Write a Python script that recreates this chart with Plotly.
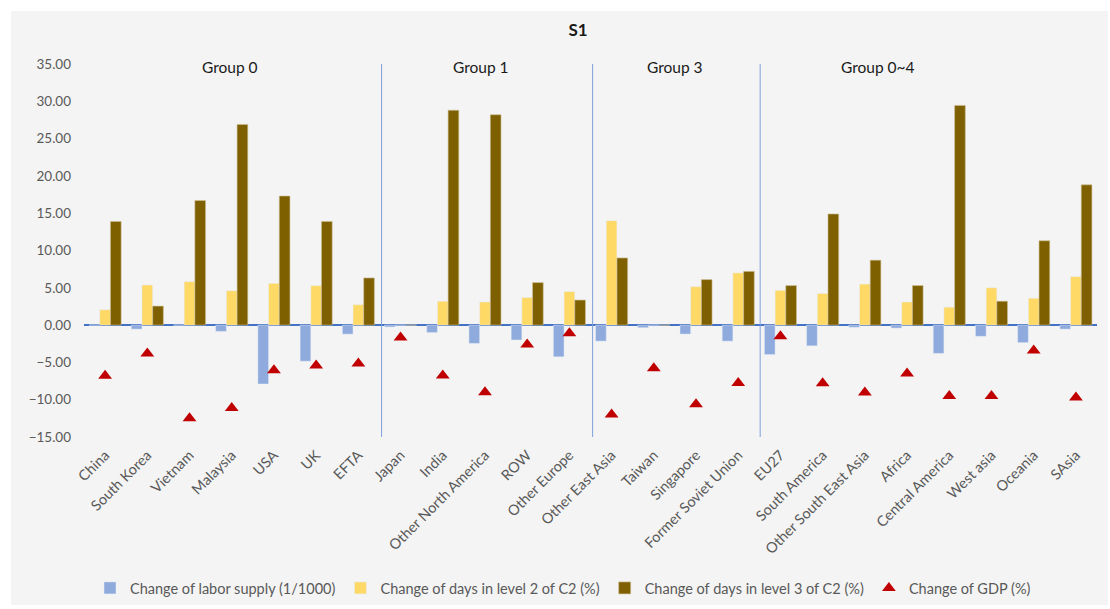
import plotly.graph_objects as go

categories = ["China", "South Korea", "Vietnam", "Malaysia", "USA", "UK", "EFTA",
              "Japan", "India", "Other North America", "ROW", "Other Europe",
              "Other East Asia", "Taiwan", "Singapore", "Former Soviet Union",
              "EU27", "South America", "Other South East Asia", "Africa",
              "Central America", "West asia", "Oceania", "SAsia"]

labor_supply = [0.0, -0.54, 0.0, -0.85, -7.9, -4.84, -1.21,
                -0.25, -1.0, -2.46, -2.0, -4.25,
                -2.15, -0.35, -1.2, -2.15,
                -3.95, -2.78, -0.3, -0.4, -3.8, -1.5, -2.35, -0.54]

days_level2 = [2.06, 5.38, 5.83, 4.6, 5.6, 5.29, 2.73,
               0.0, 3.2, 3.1, 3.7, 4.5,
               14.0, 0.0, 5.15, 7.0,
               4.66, 4.24, 5.5, 3.1, 2.4, 5.0, 3.6, 6.5]

days_level3 = [13.9, 2.55, 16.7, 26.9, 17.3, 13.9, 6.32,
               0.0, 28.8, 28.2, 5.7, 3.36,
               9.0, 0.0, 6.1, 7.2,
               5.3, 14.9, 8.7, 5.3, 29.45, 3.2, 11.3, 18.8]

gdp = [-6.8, -3.8, -12.5, -11.1, -6.05, -5.4, -5.15,
       -1.65, -6.75, -9.0, -2.6, -1.08,
       -12.0, -5.8, -10.6, -7.75,
       -1.5, -7.8, -9.05, -6.5, -9.5, -9.5, -3.4, -9.7]

series_names = ["Change of labor supply (1/1000)",
                "Change of days in level 2 of C2 (%)",
                "Change of days in level 3 of C2 (%)",
                "Change of GDP (%)"]

group_names = ["Group 0", "Group 1", "Group 3", "Group 0~4"]
group_label_pos = [2.95, 8.9, 13.5, 18.3]
divider_pos = [6.55, 11.55, 15.52]

y_ticks = [-15, -10, -5, 0, 5, 10, 15, 20, 25, 30, 35]

FONT = "Lato, 'Open Sans', sans-serif"
GRAY = "#595959"

fig = go.Figure()
fig.add_trace(go.Bar(x=categories, y=labor_supply, name=series_names[0],
                     marker_color="#8faadc"))
fig.add_trace(go.Bar(x=categories, y=days_level2, name=series_names[1],
                     marker_color="#ffd966"))
fig.add_trace(go.Bar(x=categories, y=days_level3, name=series_names[2],
                     marker=dict(color="#7f6000", line=dict(color="#cdbf95", width=0.6))))
fig.add_trace(go.Scatter(x=categories, y=gdp, name=series_names[3], mode="markers",
                         marker=dict(symbol="triangle-up", size=12, color="#c00000")))

# background panel (grey with white frame)
L, R, T, B = 84, 13, 64, 172
W, H = 1110, 609
pw, ph = W - L - R, H - T - B
def px_x(p):
    return (p - L) / pw
def px_y(p):
    return (H - B - p) / ph

shapes = [dict(type="rect", xref="paper", yref="paper",
               x0=px_x(11), x1=px_x(1108), y0=px_y(605), y1=px_y(11),
               fillcolor="#f4f4f4", line=dict(width=0), layer="below")]
for d in divider_pos:
    shapes.append(dict(type="line", xref="x", yref="y", x0=d, x1=d, y0=-15.8, y1=35.4,
                       line=dict(color="#7fa0dc", width=1)))

annotations = []
for name, pos in zip(group_names, group_label_pos):
    annotations.append(dict(x=pos, y=34.6, xref="x", yref="y", text=name, showarrow=False,
                            font=dict(family=FONT, size=15.5, color="#1a1a1a"),
                            xanchor="center", yanchor="middle"))

fig.update_layout(
    width=W, height=H,
    margin=dict(l=L, r=R, t=T, b=B, autoexpand=False),
    paper_bgcolor="white", plot_bgcolor="rgba(0,0,0,0)",
    barmode="group", bargap=0.24, bargroupgap=0,
    title=dict(text="<b>S1</b>", xref="container", x=578 / W, xanchor="center",
               yref="container", y=1 - 30 / H, yanchor="middle",
               font=dict(family=FONT, size=17, color="#1a1a1a")),
    font=dict(family=FONT, size=13, color=GRAY),
    shapes=shapes, annotations=annotations,
    legend=dict(orientation="h", xref="container", x=563 / W, xanchor="center",
                yref="container", y=1 - 588 / H, yanchor="middle",
                font=dict(family=FONT, size=14.5, color=GRAY), bgcolor="rgba(0,0,0,0)",
                traceorder="normal", itemwidth=30),
    showlegend=True,
)
fig.update_xaxes(type="category", tickangle=-45, showgrid=False, showline=False, ticks="",
                 automargin=False, ticklabelstandoff=6,
                 tickfont=dict(family=FONT, size=14.5, color=GRAY), range=[-0.5, len(categories) - 0.5])
fig.update_yaxes(range=[-15, 35], tickvals=y_ticks, tickformat=".2f", showgrid=False,
                 automargin=False, ticklabelstandoff=12,
                 zeroline=True, zerolinecolor="#4472c4", zerolinewidth=1.5,
                 showline=False, ticks="", tickfont=dict(family=FONT, size=13.5, color=GRAY))

fig.write_html("out.html")
